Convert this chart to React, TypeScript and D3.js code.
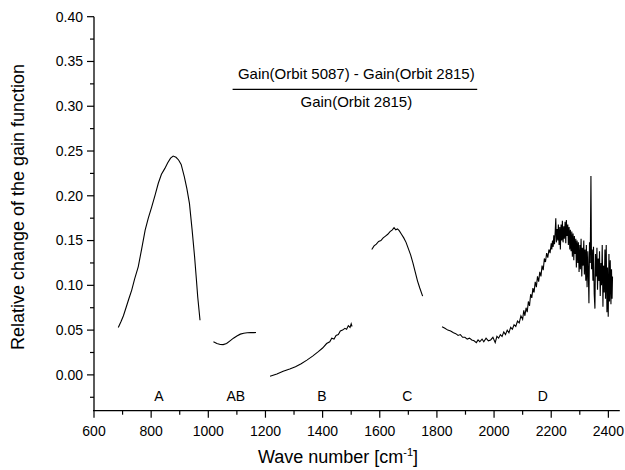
import React from "react";
import * as d3 from "d3";

type P = [number, number];

const segA: P[] = [
  [685, 0.053], [695, 0.06], [703, 0.066], [712, 0.075], [722, 0.085], [732, 0.0947],
  [742, 0.107], [755, 0.121], [767, 0.141], [779, 0.1617], [790, 0.175], [802, 0.1877],
  [814, 0.201], [825, 0.214], [836, 0.224], [848, 0.2306], [858, 0.237], [868, 0.242],
  [877, 0.2444], [887, 0.243], [896, 0.24], [905, 0.235], [916, 0.2213], [925, 0.208],
  [934, 0.1915], [943, 0.163], [952, 0.132], [958, 0.108], [963, 0.087], [971, 0.061],
];

const segAB: P[] = [
  [1018, 0.0369], [1030, 0.035], [1042, 0.034], [1052, 0.0338], [1064, 0.035], [1076, 0.038],
  [1088, 0.041], [1100, 0.0435], [1112, 0.0455], [1124, 0.0465], [1136, 0.047], [1148, 0.0473],
  [1160, 0.0472], [1167, 0.0474],
];

const segB: P[] = [
  [1216, -0.0015], [1240, 0.001], [1262, 0.004], [1285, 0.0065], [1305, 0.009], [1325, 0.0125],
  [1345, 0.0165], [1365, 0.021], [1385, 0.026], [1400, 0.03], [1414, 0.035], [1425, 0.037],
  [1432, 0.041], [1440, 0.04], [1447, 0.044], [1455, 0.045], [1462, 0.049], [1470, 0.05],
  [1478, 0.052], [1484, 0.051], [1490, 0.055], [1496, 0.053], [1500, 0.057], [1503, 0.054],
];

const segC: P[] = [
  [1572, 0.14], [1580, 0.144], [1588, 0.146], [1596, 0.149], [1604, 0.15], [1612, 0.153],
  [1620, 0.155], [1628, 0.157], [1636, 0.16], [1644, 0.162], [1650, 0.1645], [1656, 0.162],
  [1662, 0.163], [1668, 0.161], [1676, 0.157], [1684, 0.153], [1692, 0.148], [1700, 0.141],
  [1708, 0.134], [1716, 0.125], [1724, 0.115], [1732, 0.105], [1740, 0.097], [1750, 0.088],
];

const segD: P[] = [
  [1818, 0.0537], [1828, 0.052], [1838, 0.05], [1848, 0.049], [1858, 0.047], [1866, 0.046],
  [1874, 0.044], [1882, 0.045], [1890, 0.042], [1898, 0.042], [1906, 0.04], [1914, 0.041],
  [1922, 0.039], [1930, 0.038], [1938, 0.036], [1944, 0.039], [1950, 0.037], [1958, 0.04],
  [1964, 0.037], [1972, 0.041], [1980, 0.038], [1988, 0.039], [1996, 0.042], [2004, 0.036],
  [2010, 0.043], [2016, 0.041], [2022, 0.045], [2028, 0.043], [2034, 0.048], [2040, 0.045],
  [2046, 0.05], [2052, 0.047], [2058, 0.053], [2064, 0.051], [2070, 0.056], [2076, 0.054],
  [2082, 0.06], [2088, 0.058], [2094, 0.066], [2100, 0.062], [2104, 0.072], [2108, 0.066],
  [2112, 0.075], [2116, 0.07], [2120, 0.082], [2124, 0.077], [2128, 0.09], [2132, 0.086],
  [2136, 0.097], [2140, 0.092], [2144, 0.104], [2148, 0.098], [2152, 0.11], [2156, 0.104],
  [2160, 0.115], [2164, 0.11], [2168, 0.122], [2172, 0.117], [2176, 0.13], [2180, 0.126],
  [2184, 0.136], [2188, 0.131], [2192, 0.14], [2196, 0.136],
  [2200, 0.147], [2202, 0.14], [2204.5, 0.15], [2207, 0.143], [2209, 0.156], [2211.5, 0.146],
  [2214, 0.16], [2216, 0.175], [2218, 0.148], [2220.5, 0.163], [2223, 0.15], [2225, 0.168],
  [2227.5, 0.145], [2230, 0.165], [2232, 0.14], [2234.5, 0.168], [2237, 0.15], [2239, 0.172],
  [2241.5, 0.148], [2244, 0.166], [2246, 0.152], [2248.5, 0.171], [2251, 0.147], [2253, 0.173],
  [2255.5, 0.155], [2258, 0.168], [2260, 0.145], [2262.5, 0.165], [2265, 0.14], [2267, 0.162],
  [2269.5, 0.138], [2272, 0.16], [2274, 0.132], [2276.5, 0.158], [2279, 0.128], [2281, 0.155],
  [2283.5, 0.135], [2286, 0.152], [2288, 0.12], [2290.5, 0.15], [2293, 0.125], [2295, 0.148],
  [2297.5, 0.115], [2300, 0.145], [2302, 0.118], [2304.5, 0.152], [2307, 0.11], [2309, 0.142],
  [2311.5, 0.122], [2314, 0.15], [2316, 0.112], [2318.5, 0.14], [2321, 0.105], [2323, 0.145],
  [2325.5, 0.098], [2328, 0.138], [2330, 0.112], [2332, 0.08], [2334, 0.148], [2336.5, 0.125],
  [2339, 0.222], [2341, 0.118], [2343.5, 0.14], [2346, 0.105], [2348, 0.143], [2350.5, 0.09],
  [2353, 0.074], [2355, 0.135], [2357.5, 0.11], [2360, 0.142], [2362, 0.095], [2364.5, 0.13],
  [2367, 0.105], [2369, 0.138], [2371.5, 0.088], [2374, 0.125], [2376, 0.1], [2378.5, 0.145],
  [2381, 0.076], [2383, 0.122], [2385.5, 0.092], [2388, 0.14], [2390, 0.085], [2392.5, 0.145],
  [2395, 0.07], [2397, 0.12], [2399.5, 0.065], [2402, 0.135], [2404, 0.082], [2406.5, 0.128],
  [2409, 0.079], [2411, 0.118], [2413, 0.085], [2414.5, 0.11],
];

const bandLabels: string[] = ["A", "AB", "B", "C", "D"];
const bandLabelX: number[] = [827, 1096, 1398, 1696, 2171];

const xMajor: number[] = [600, 800, 1000, 1200, 1400, 1600, 1800, 2000, 2200, 2400];
const xMinor: number[] = [700, 900, 1100, 1300, 1500, 1700, 1900, 2100, 2300];
const yMajor: number[] = [0, 0.05, 0.1, 0.15, 0.2, 0.25, 0.3, 0.35, 0.4];
const yMinor: number[] = [-0.025, 0.025, 0.075, 0.125, 0.175, 0.225, 0.275, 0.325, 0.375];

const numeratorText = "Gain(Orbit 5087) - Gain(Orbit 2815)";
const denominatorText = "Gain(Orbit 2815)";
const yTitle = "Relative change of the gain function";

export default function App() {
  const x = d3.scaleLinear().domain([600, 2440]).range([94, 619.8]);
  const y = d3.scaleLinear().domain([-0.04, 0.4]).range([410.7, 16.7]);
  const line = d3
    .line<P>()
    .x((d) => x(d[0]))
    .y((d) => y(d[1]));
  const segs = [segA, segAB, segB, segC, segD];
  const font = "Arial, 'Liberation Sans', sans-serif";
  const x0 = x(600);
  const yb = y(-0.04);
  return (
    <svg
      width={625}
      height={470}
      style={{ position: "absolute", left: 0, top: 0, background: "#fff" }}
      fontFamily={font}
    >
      <rect x={0} y={0} width={625} height={470} fill="#fff" />
      {segs.map((s, i) => (
        <path key={i} d={line(s) || ""} fill="none" stroke="#000" strokeWidth={1.1} />
      ))}
      <line x1={x0} y1={y(0.4)} x2={x0} y2={yb} stroke="#000" strokeWidth={1.3} />
      <line x1={x0 - 1} y1={yb} x2={x(2440)} y2={yb} stroke="#000" strokeWidth={1.3} />
      {yMajor.map((v) => (
        <g key={"ym" + v}>
          <line x1={x0 - 7} x2={x0} y1={y(v)} y2={y(v)} stroke="#000" strokeWidth={1.2} />
          <text x={x0 - 11} y={y(v)} dy="0.35em" textAnchor="end" fontSize={14}>
            {v.toFixed(2)}
          </text>
        </g>
      ))}
      {yMinor.map((v) => (
        <line key={"yn" + v} x1={x0 - 4} x2={x0} y1={y(v)} y2={y(v)} stroke="#000" strokeWidth={1.2} />
      ))}
      {xMajor.map((v) => (
        <g key={"xm" + v}>
          <line x1={x(v)} x2={x(v)} y1={yb} y2={yb + 7} stroke="#000" strokeWidth={1.2} />
          <text x={x(v)} y={yb + 25} textAnchor="middle" fontSize={14}>
            {v}
          </text>
        </g>
      ))}
      {xMinor.map((v) => (
        <line key={"xn" + v} x1={x(v)} x2={x(v)} y1={yb} y2={yb + 4} stroke="#000" strokeWidth={1.2} />
      ))}
      {bandLabels.map((t, i) => (
        <text key={t} x={x(bandLabelX[i])} y={y(-0.024)} dy="0.35em" textAnchor="middle" fontSize={14}>
          {t}
        </text>
      ))}
      <text x={x(1518)} y={79} textAnchor="middle" fontSize={15}>
        {numeratorText}
      </text>
      <line x1={x(1085)} x2={x(1941)} y1={89.3} y2={89.3} stroke="#000" strokeWidth={1.3} />
      <text x={x(1518)} y={107} textAnchor="middle" fontSize={15}>
        {denominatorText}
      </text>
      <text transform={`translate(24, 207) rotate(-90)`} textAnchor="middle" fontSize={18}>
        {yTitle}
      </text>
      <text x={338} y={463} textAnchor="middle" fontSize={18}>
        Wave number [cm<tspan dy={-7} fontSize={11}>-1</tspan>
        <tspan dy={7}>]</tspan>
      </text>
    </svg>
  );
}
